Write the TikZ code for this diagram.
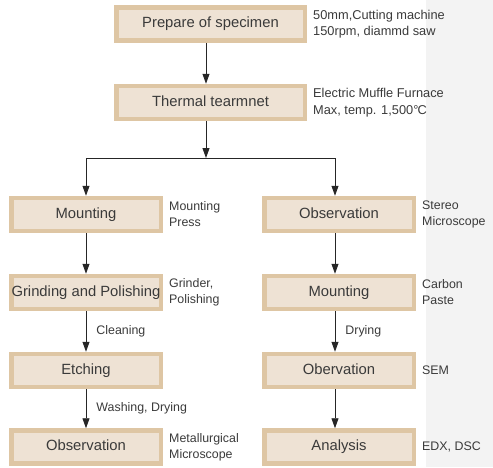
\documentclass[tikz,border=0pt]{standalone}
\usepackage{fontspec}
\setmainfont{Liberation Sans}
\usetikzlibrary{arrows.meta,calc}
\definecolor{boxborder}{RGB}{222,198,164}
\definecolor{boxfill}{RGB}{238,226,212}
\definecolor{txt}{RGB}{58,58,58}
\definecolor{strip}{RGB}{243,243,243}
\begin{document}
\begin{tikzpicture}[x=1pt,y=-1pt,
  box/.style={draw=boxborder, fill=boxfill, line width=4.5pt, minimum height=33pt,
    minimum width=149.5pt, inner sep=0pt, text height=10.8pt, text depth=3.2pt,
    text=txt, font=\fontsize{14.8}{17}\selectfont},
  wide/.style={minimum width=188.5pt},
  side/.style={anchor=west, align=left, inner sep=0pt, text=txt, font=\fontsize{12.4}{16}\selectfont},
  topside/.style={side, font=\fontsize{12.8}{16.5}\selectfont},
  arr/.style={-{Triangle[width=7pt,length=10pt]}, line width=0.9pt, draw=black!85}]
\useasboundingbox (0,0) rectangle (493,467);
\fill[strip] (426,0) rectangle (493,467);

% top column
\node[box,wide] (p1) at (210.5,24) {Prepare of specimen};
\node[box,wide] (p2) at (210.5,102.5) {Thermal tearmnet};
\node[topside] (s1) at (313,24) {50mm,Cutting machine\\150rpm, diammd saw};
\node[topside] (s2) at (313,102.5) {Electric Muffle Furnace\\Max, temp. 1,500°\kern-0.8ptC};

% left column
\node[box] (l1) at (86,214.5) {Mounting};
\node[box] (l2) at (86,292.5) {Grinding and Polishing};
\node[box] (l3) at (86,370.5) {Etching};
\node[box] (l4) at (86,447) {Observation};
\node[side] (ls1) at (169,214.5) {Mounting\\Press};
\node[side] (ls2) at (169,292.5) {Grinder,\\Polishing};
\node[side] (ls4) at (169,447) {Metallurgical\\Microscope};

% right column
\node[box] (r1) at (339,214.5) {Observation};
\node[box] (r2) at (339,292.5) {Mounting};
\node[box] (r3) at (339,370.5) {Obervation};
\node[box] (r4) at (339,447) {Analysis};
\node[side] (rs1) at (422,214.5) {Stereo\\Microscope};
\node[side] (rs2) at (422,292.5) {Carbon\\Paste};
\node[side] (rs3) at (422,370.5) {SEM};
\node[side] (rs4) at (422,447) {EDX, DSC};

% connectors
\coordinate (bm) at (206,158);
\coordinate (bl) at (86,158);
\coordinate (bri) at (335,158);
\draw[arr] ([xshift=-4.5pt]p1.south) -- ([xshift=-4.5pt]p2.north);
\draw[arr] ([xshift=-4.5pt]p2.south) -- (bm);
\draw[line width=0.9pt, draw=black!85] (bl) -- (bri);
\draw[arr] (bl) -- (l1.north);
\draw[arr] (bri) -- ([xshift=-4pt]r1.north);

\draw[arr] (l1) -- (l2);
\draw[arr] (l2) -- node[side, right=10pt] (c1) {Cleaning} (l3);
\draw[arr] (l3) -- node[side, right=10pt] (c2) {Washing, Drying} (l4);

\draw[arr] ([xshift=-4pt]r1.south) -- ([xshift=-4pt]r2.north);
\draw[arr] ([xshift=-4pt]r2.south) -- node[side, right=10pt] (c3) {Drying} ([xshift=-4pt]r3.north);
\draw[arr] ([xshift=-4pt]r3.south) -- ([xshift=-4pt]r4.north);
\end{tikzpicture}
\end{document}
